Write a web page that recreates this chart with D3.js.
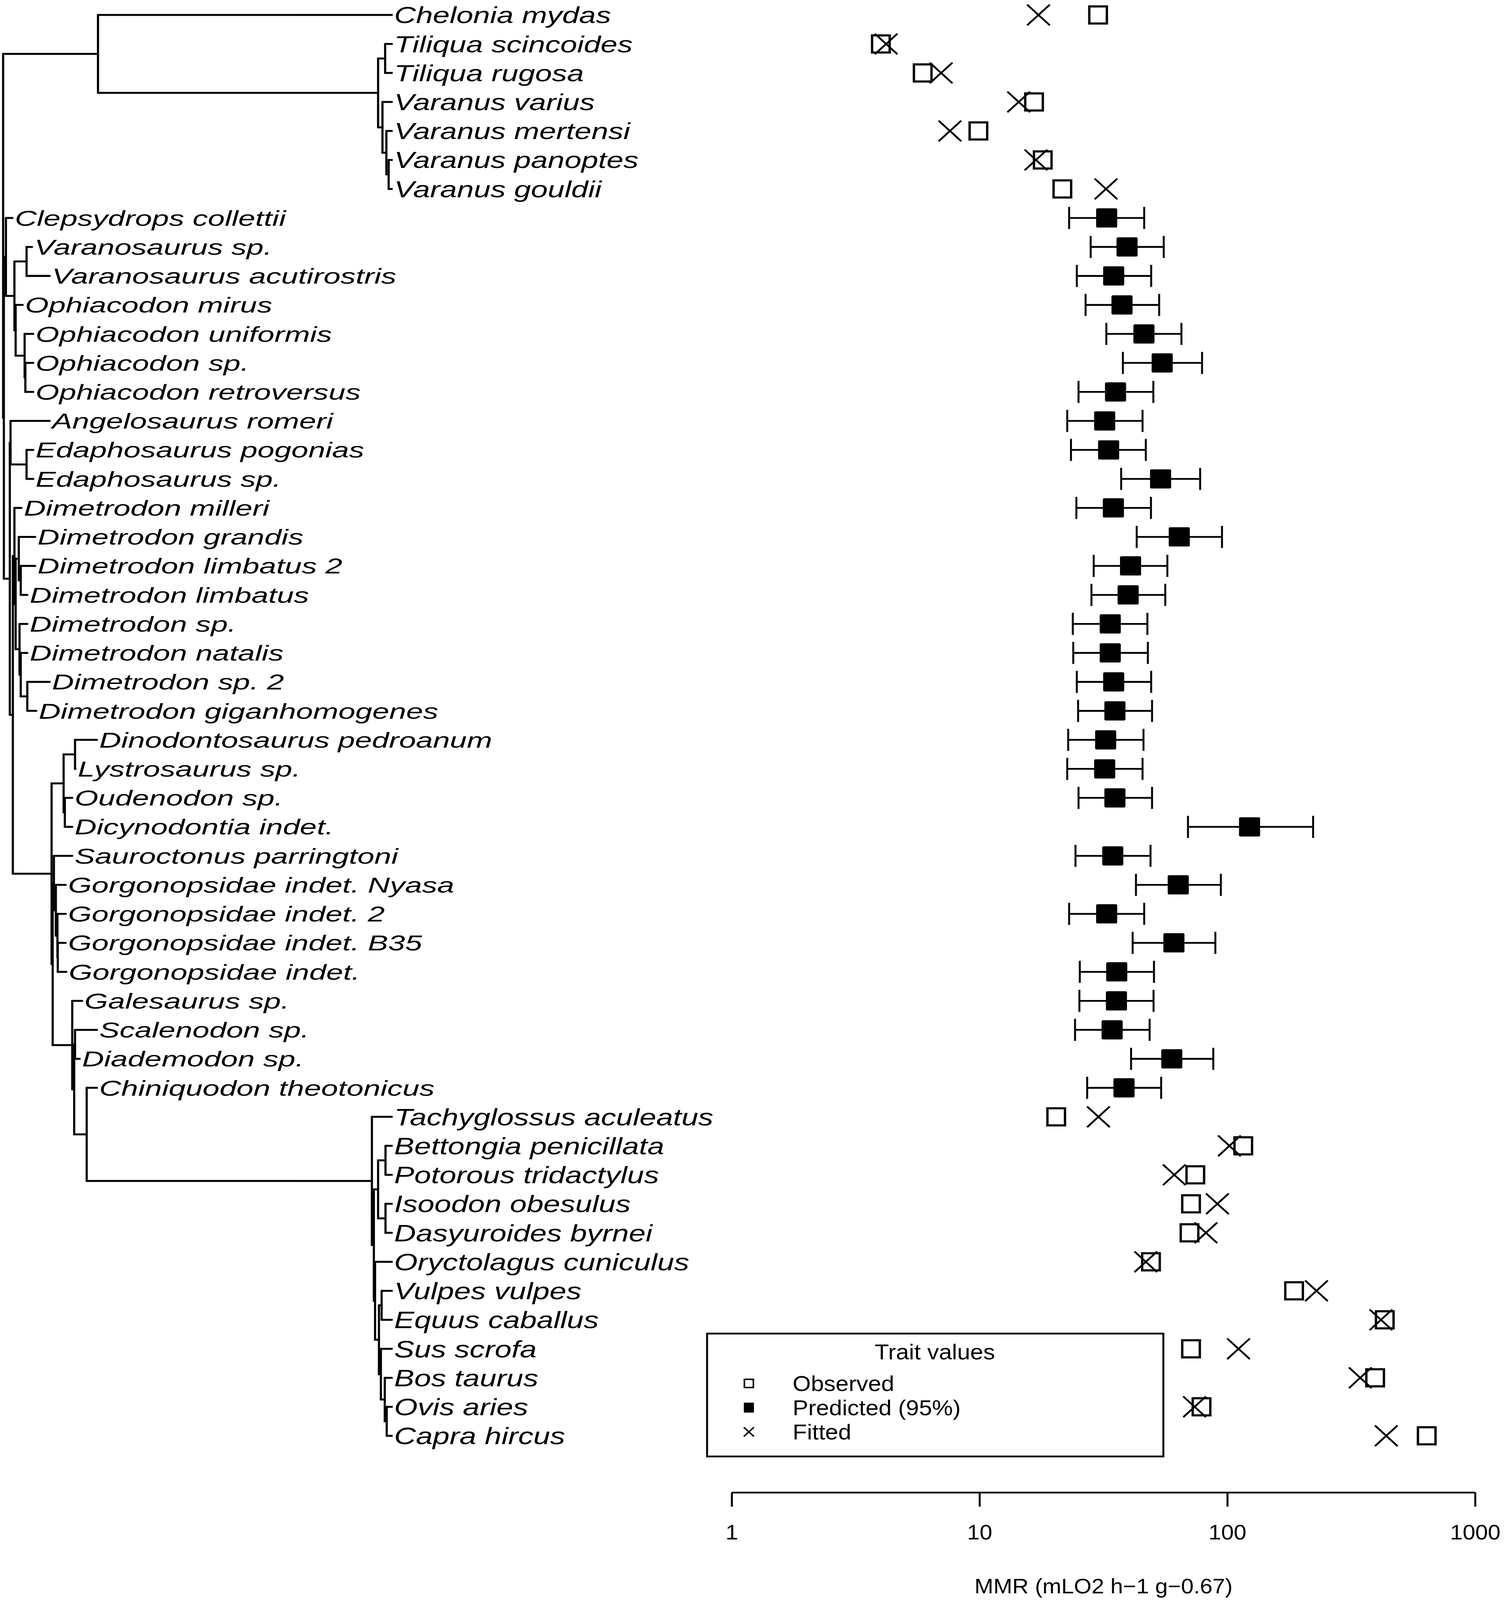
<!DOCTYPE html>
<html>
<head>
<meta charset="utf-8">
<script src="https://cdn.jsdelivr.net/npm/d3@7"></script>
<style>
  html, body { margin: 0; padding: 0; background: #fff; overflow: hidden; }
  text { font-family: "Liberation Sans", Arial, sans-serif; fill: #000; }
</style>
</head>
<body>
<div id="vis"></div>
<script>
// species in plotting order (top to bottom)
const species = [
  "Chelonia mydas", "Tiliqua scincoides", "Tiliqua rugosa", "Varanus varius",
  "Varanus mertensi", "Varanus panoptes", "Varanus gouldii",
  "Clepsydrops collettii", "Varanosaurus sp.", "Varanosaurus acutirostris",
  "Ophiacodon mirus", "Ophiacodon uniformis", "Ophiacodon sp.", "Ophiacodon retroversus",
  "Angelosaurus romeri", "Edaphosaurus pogonias", "Edaphosaurus sp.",
  "Dimetrodon milleri", "Dimetrodon grandis", "Dimetrodon limbatus 2", "Dimetrodon limbatus",
  "Dimetrodon sp.", "Dimetrodon natalis", "Dimetrodon sp. 2", "Dimetrodon giganhomogenes",
  "Dinodontosaurus pedroanum", "Lystrosaurus sp.", "Oudenodon sp.", "Dicynodontia indet.",
  "Sauroctonus parringtoni", "Gorgonopsidae indet. Nyasa", "Gorgonopsidae indet. 2",
  "Gorgonopsidae indet. B35", "Gorgonopsidae indet.",
  "Galesaurus sp.", "Scalenodon sp.", "Diademodon sp.", "Chiniquodon theotonicus",
  "Tachyglossus aculeatus", "Bettongia penicillata", "Potorous tridactylus",
  "Isoodon obesulus", "Dasyuroides byrnei", "Oryctolagus cuniculus", "Vulpes vulpes",
  "Equus caballus", "Sus scrofa", "Bos taurus", "Ovis aries", "Capra hircus"
];

// observed and fitted MMR (extant species only, null for fossils)
const observed = [
  30.1, 4.0, 5.9, 16.6, 9.9, 18.0, 21.6,
  null, null, null, null, null, null, null, null, null, null,
  null, null, null, null, null, null, null, null,
  null, null, null, null, null, null, null, null, null,
  null, null, null, null,
  20.4, 116, 74.3, 71.4, 70.4, 49.2, 186, 432, 71.4, 395, 78.7, 638
];
const fitted = [
  17.3, 4.2, 7.0, 14.4, 7.6, 16.9, 32.4,
  null, null, null, null, null, null, null, null, null, null,
  null, null, null, null, null, null, null, null,
  null, null, null, null, null, null, null, null, null,
  null, null, null, null,
  30.2, 102, 61.1, 91.2, 82.0, 46.9, 229, 417, 111, 344, 73.8, 438
];

// predicted MMR with 95% interval (fossils only)
const predicted = [
  null, null, null, null, null, null, null,
  32.6, 39.4, 34.8, 37.6, 46.1, 54.6, 35.4, 32.0, 33.2, 53.8,
  34.7, 64.0, 40.7, 39.8, 33.7, 33.7, 34.8, 35.2,
  32.3, 32.0, 35.2, 123, 34.5, 63.4, 32.6, 60.9, 35.8,
  35.7, 34.3, 59.7, 38.3,
  null, null, null, null, null, null, null, null, null, null, null, null
];
const predLow = [
  null, null, null, null, null, null, null,
  23.0, 28.1, 24.7, 26.8, 32.5, 37.9, 25.1, 22.6, 23.4, 37.3,
  24.6, 43.1, 28.9, 28.3, 23.8, 23.9, 24.7, 25.0,
  22.8, 22.6, 25.1, 69.4, 24.4, 42.8, 23.0, 41.5, 25.4,
  25.3, 24.3, 40.9, 27.2,
  null, null, null, null, null, null, null, null, null, null, null, null
];
const predHigh = [
  null, null, null, null, null, null, null,
  46.2, 55.4, 49.3, 53.1, 65.3, 79.1, 50.3, 45.5, 46.9, 77.7,
  49.2, 95.2, 57.3, 56.2, 47.6, 47.8, 49.3, 49.7,
  45.9, 45.5, 49.7, 222, 49.0, 94.2, 46.2, 89.5, 50.6,
  50.4, 48.6, 87.8, 54.1,
  null, null, null, null, null, null, null, null, null, null, null, null
];

// tree edges: [parent, child, branch length (Myr)]
const edges = [
  ["", "R", 0],
  ["R", "Rp", 78.1], ["R", "N1", 0.6],
  ["Rp", "Chelonia mydas", 241.9], ["Rp", "Sq", 230.6],
  ["Sq", "Ti", 5.8], ["Sq", "V1", 3.6],
  ["Ti", "Tiliqua scincoides", 5.5], ["Ti", "Tiliqua rugosa", 5.5],
  ["V1", "Varanus varius", 7.7], ["V1", "V2", 3.2],
  ["V2", "Varanus mertensi", 4.5], ["V2", "V3", 1.9],
  ["V3", "Varanus panoptes", 2.6], ["V3", "Varanus gouldii", 2.6],
  ["N1", "O1", 1.7], ["N1", "Sp", 4.9],
  ["O1", "Clepsydrops collettii", 5.4], ["O1", "O2", 7.0],
  ["O2", "Vs", 10.0], ["O2", "O2b", 1.0],
  ["Vs", "Varanosaurus sp.", 4.5], ["Vs", "Varanosaurus acutirostris", 19.0],
  ["O2b", "Ophiacodon mirus", 5.8], ["O2b", "O3", 7.4],
  ["O3", "Ophiacodon uniformis", 7.1], ["O3", "O4", 0.6],
  ["O4", "Ophiacodon sp.", 6.5], ["O4", "Ophiacodon retroversus", 6.5],
  ["Sp", "E1", 0.6], ["Sp", "S3", 2.5],
  ["E1", "Angelosaurus romeri", 32.2], ["E1", "Ed", 13.2],
  ["Ed", "Edaphosaurus pogonias", 5.5], ["Ed", "Edaphosaurus sp.", 5.5],
  ["S3", "A", 1.3], ["S3", "T", 31.9],
  ["A", "Dimetrodon milleri", 5.8], ["A", "B", 1.0],
  ["B", "C1", 2.6], ["B", "D1", 3.2],
  ["C1", "Dimetrodon grandis", 13.5], ["C1", "C2", 1.6],
  ["C2", "Dimetrodon limbatus 2", 11.9], ["C2", "Dimetrodon limbatus", 5.4],
  ["D1", "Dimetrodon sp.", 6.4], ["D1", "D2", 1.0],
  ["D2", "Dimetrodon natalis", 5.4], ["D2", "D3", 5.4],
  ["D3", "Dimetrodon sp. 2", 18.4], ["D3", "Dimetrodon giganhomogenes", 7.4],
  ["T", "Dic", 9.9], ["T", "T2", 0.9],
  ["Dic", "DL", 9.4], ["Dic", "OD", 1.0],
  ["DL", "Dinodontosaurus pedroanum", 18.0], ["DL", "Lystrosaurus sp.", 0.3],
  ["OD", "Oudenodon sp.", 6.1], ["OD", "Dicynodontia indet.", 6.1],
  ["T2", "G1", 1.0], ["T2", "Cy", 16.1],
  ["G1", "Sauroctonus parringtoni", 15.1], ["G1", "G2", 1.6],
  ["G2", "Gorgonopsidae indet. Nyasa", 8.1], ["G2", "G3", 1.3],
  ["G3", "Gorgonopsidae indet. 2", 6.8], ["G3", "G4", 0.3],
  ["G4", "Gorgonopsidae indet. B35", 6.5], ["G4", "Gorgonopsidae indet.", 7.1],
  ["Cy", "Galesaurus sp.", 8.1], ["Cy", "C2c", 1.6],
  ["C2c", "SD", 0.7], ["C2c", "CM", 10.3],
  ["SD", "Scalenodon sp.", 18.0], ["SD", "Diademodon sp.", 3.8],
  ["CM", "Chiniquodon theotonicus", 8.4], ["CM", "M1", 234.8],
  ["M1", "Tachyglossus aculeatus", 16.4], ["M1", "Th", 1.6],
  ["Th", "Ma", 3.5], ["Th", "Pl", 1.0],
  ["Ma", "BP", 6.1], ["Ma", "ID", 6.1],
  ["BP", "Bettongia penicillata", 5.2], ["BP", "Potorous tridactylus", 5.2],
  ["ID", "Isoodon obesulus", 5.2], ["ID", "Dasyuroides byrnei", 5.2],
  ["Pl", "Oryctolagus cuniculus", 13.8], ["Pl", "La", 3.2],
  ["La", "VE", 2.2], ["La", "Ce", 1.6],
  ["VE", "Vulpes vulpes", 8.4], ["VE", "Equus caballus", 8.4],
  ["Ce", "Sus scrofa", 9.0], ["Ce", "Ru", 3.2],
  ["Ru", "Bos taurus", 5.8], ["Ru", "OC", 1.6],
  ["OC", "Ovis aries", 4.2], ["OC", "Capra hircus", 4.2]
];

const tickVals = [1, 10, 100, 1000];
const axisTitle = "MMR (mLO2 h\u22121 g\u22120.67)";
const legendTitle = "Trait values";
const legendItems = ["Observed", "Predicted (95%)", "Fitted"];

// ---------------------------------------------------------------
// drawing is done in a 3850 x 4492 coordinate frame, stretched to the viewport
const W = 3850, H = 4492;
const svg = d3.select("#vis").append("svg")
    .attr("viewBox", "0 0 " + W + " " + H)
    .attr("preserveAspectRatio", "none")
    .attr("width", window.innerWidth || W)
    .attr("height", window.innerHeight || H)
    .style("display", "block")
    .style("background", "#fff");

const Y = d3.scaleLinear().domain([0, species.length - 1]).range([42, 4031]);
const X = d3.scaleLog().domain([1, 1000]).range([1873, 3776]);
const TREE_X = d3.scaleLinear().domain([0, 320]).range([8, 1003]);

// ---- tree ----
const root = d3.stratify()
    .id(d => d[1])
    .parentId(d => d[0] === "" ? null : d[0])(edges);

root.eachBefore(n => { n.t = n.parent ? n.parent.t + n.data[2] : 0; });
root.eachAfter(n => {
  if (n.children) {
    n.py = (n.children[0].py + n.children[n.children.length - 1].py) / 2;
  } else {
    n.py = Y(species.indexOf(n.id));
  }
  n.px = TREE_X(n.t);
});

const treeG = svg.append("g")
    .attr("stroke", "#000")
    .attr("stroke-width", 5.5)
    .attr("stroke-linecap", "round")
    .attr("fill", "none");

// horizontal branches
treeG.selectAll(".hbranch")
  .data(root.descendants().filter(n => n.parent))
  .enter()
  .append("line")
    .attr("x1", n => n.parent.px)
    .attr("x2", n => n.px)
    .attr("y1", n => n.py)
    .attr("y2", n => n.py);

// vertical connectors
treeG.selectAll(".vbranch")
  .data(root.descendants().filter(n => n.children))
  .enter()
  .append("line")
    .attr("x1", n => n.px)
    .attr("x2", n => n.px)
    .attr("y1", n => n.children[0].py)
    .attr("y2", n => n.children[n.children.length - 1].py);

// tip labels (three blocks were typeset at slightly different sizes)
function labelStyle(i) {
  if (i < 7) return { size: 64, sx: 1.21 };
  if (i < 38) return { size: 60, sx: 1.30 };
  return { size: 66, sx: 1.17 };
}

svg.selectAll(".tip")
  .data(root.leaves())
  .enter()
  .append("text")
    .attr("transform", n => {
      const s = labelStyle(species.indexOf(n.id));
      return "translate(" + (n.px + 6) + "," + n.py + ") scale(" + s.sx + ",1)";
    })
    .attr("font-size", n => labelStyle(species.indexOf(n.id)).size)
    .attr("font-style", "italic")
    .attr("dy", "0.36em")
    .text(n => n.id);

// ---- trait values ----
const rows = species.map((s, i) => ({
  i: i, obs: observed[i], fit: fitted[i],
  pred: predicted[i], lo: predLow[i], hi: predHigh[i]
}));

const marks = svg.append("g");

// error bars
const bars = rows.filter(d => d.pred != null);
marks.selectAll(".ebar")
  .data(bars)
  .enter()
  .append("line")
    .attr("x1", d => X(d.lo))
    .attr("x2", d => X(d.hi))
    .attr("y1", d => Y(d.i))
    .attr("y2", d => Y(d.i))
    .attr("stroke", "#000")
    .attr("stroke-width", 5);

["lo", "hi"].forEach(k => {
  marks.selectAll(".cap-" + k)
    .data(bars)
    .enter()
    .append("line")
      .attr("x1", d => X(d[k]))
      .attr("x2", d => X(d[k]))
      .attr("y1", d => Y(d.i) - 31)
      .attr("y2", d => Y(d.i) + 31)
      .attr("stroke", "#000")
      .attr("stroke-width", 5);
});

marks.selectAll(".pred")
  .data(bars)
  .enter()
  .append("rect")
    .attr("x", d => X(d.pred) - 27)
    .attr("y", d => Y(d.i) - 27)
    .attr("width", 54)
    .attr("height", 54)
    .attr("rx", 4)
    .attr("fill", "#000");

// observed (open squares)
marks.selectAll(".obs")
  .data(rows.filter(d => d.obs != null))
  .enter()
  .append("rect")
    .attr("x", d => X(d.obs) - 22.5)
    .attr("y", d => Y(d.i) - 24)
    .attr("width", 45)
    .attr("height", 48)
    .attr("fill", "none")
    .attr("stroke", "#000")
    .attr("stroke-width", 6);

// fitted (crosses)
const crossPath = (cx, cy, r) =>
  "M" + (cx - r) + "," + (cy - r) + "L" + (cx + r) + "," + (cy + r) +
  "M" + (cx - r) + "," + (cy + r) + "L" + (cx + r) + "," + (cy - r);

marks.selectAll(".fit")
  .data(rows.filter(d => d.fit != null))
  .enter()
  .append("path")
    .attr("d", d => crossPath(X(d.fit), Y(d.i), 29))
    .attr("fill", "none")
    .attr("stroke", "#000")
    .attr("stroke-width", 5);

// ---- axis ----
const axisG = svg.append("g")
    .attr("transform", "translate(0,4190)")
    .call(d3.axisBottom(X)
      .tickValues(tickVals)
      .tickFormat(d3.format("d"))
      .tickSize(40)
      .tickSizeOuter(0)
      .tickPadding(51));

axisG.select(".domain").attr("stroke-width", 5);
axisG.selectAll(".tick line").attr("stroke-width", 5);
axisG.selectAll(".tick text")
    .attr("font-size", 58)
    .attr("font-family", "Liberation Sans, Arial, sans-serif");

svg.append("text")
    .attr("x", 2825)
    .attr("y", 4473)
    .attr("text-anchor", "middle")
    .attr("font-size", 58)
    .text(axisTitle);

// ---- legend ----
const LEG = { x: 1810, y: 3744, w: 1168, h: 345 };
const legend = svg.append("g");

legend.append("rect")
    .attr("x", LEG.x)
    .attr("y", LEG.y)
    .attr("width", LEG.w)
    .attr("height", LEG.h)
    .attr("fill", "#fff")
    .attr("stroke", "#000")
    .attr("stroke-width", 5);

legend.append("text")
    .attr("x", LEG.x + 583)
    .attr("y", LEG.y + 51)
    .attr("dy", "0.36em")
    .attr("text-anchor", "middle")
    .attr("font-size", 60)
    .text(legendTitle);

const itemY = i => LEG.y + 140 + i * 68;
const symX = LEG.x + 107;

legend.selectAll(".ltext")
  .data(legendItems)
  .enter()
  .append("text")
    .attr("x", LEG.x + 219)
    .attr("y", (d, i) => itemY(i))
    .attr("dy", "0.36em")
    .attr("font-size", 60)
    .text(d => d);

legend.append("rect")
    .attr("x", symX - 11.5).attr("y", itemY(0) - 11.5)
    .attr("width", 23).attr("height", 23)
    .attr("fill", "none").attr("stroke", "#000").attr("stroke-width", 4);

legend.append("rect")
    .attr("x", symX - 13).attr("y", itemY(1) - 14)
    .attr("width", 26).attr("height", 28)
    .attr("rx", 2)
    .attr("fill", "#000");

legend.append("path")
    .attr("d", crossPath(symX, itemY(2), 13))
    .attr("fill", "none").attr("stroke", "#000").attr("stroke-width", 4);
</script>
</body>
</html>
